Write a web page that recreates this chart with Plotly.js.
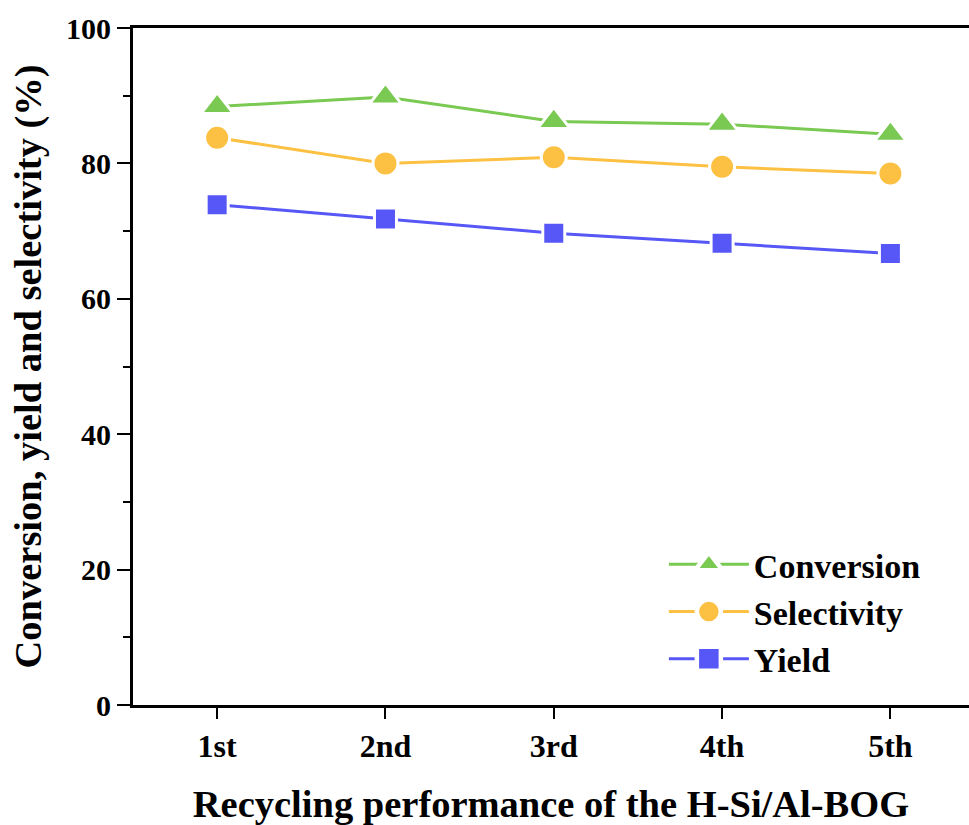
<!DOCTYPE html>
<html>
<head>
<meta charset="utf-8">
<script src="https://cdn.plot.ly/plotly-3.0.1.min.js"></script>
<style>
  html, body { margin: 0; padding: 0; background: #fff; }
  #chart { width: 969px; height: 825px; }
  /* legend glyphs are clamped small by default; show them at the plotted marker size */
  #chart g.legendpoints path.scatterpts { transform: translate(45px, 0px) scale(1.5); }
</style>
</head>
<body>
<div id="chart"></div>
<script>
// Recycling runs of the H-Si/Al-BOG catalyst
const cycles = ['1st', '2nd', '3rd', '4th', '5th'];
const conversion = [88.4, 89.8, 86.2, 85.8, 84.3];
const selectivity = [83.8, 80.0, 80.9, 79.5, 78.5];
const yieldPct = [73.9, 71.8, 69.7, 68.2, 66.7];

const FONT = 'Liberation Serif, Times New Roman, serif';

function series(name, y, color, symbol, size) {
  return {
    type: 'scatter',
    mode: 'lines+markers',
    name: '<b>' + name + '</b>',
    x: cycles,
    y: y,
    line: { color: color, width: 3 },
    marker: { color: color, symbol: symbol, size: size, line: { color: '#ffffff', width: 3 } },
    cliponaxis: false
  };
}

const data = [
  series('Conversion', conversion, '#79c952', 'triangle-up', 28),
  series('Selectivity', selectivity, '#fcc143', 'circle', 25),
  series('Yield', yieldPct, '#5757f7', 'square', 22)
];

const layout = {
  width: 969,
  height: 825,
  margin: { l: 133, r: 0, t: 28, b: 120 },
  paper_bgcolor: '#ffffff',
  plot_bgcolor: '#ffffff',
  showlegend: true,
  font: { family: FONT, color: '#000000' },
  xaxis: {
    type: 'category',
    range: [-0.5, 4.467],
    showline: true,
    linecolor: '#000',
    linewidth: 3,
    mirror: true,
    ticks: 'outside',
    ticklen: 11,
    tickwidth: 2,
    tickcolor: '#000',
    ticklabelstandoff: 0,
    tickfont: { family: FONT, size: 32, color: '#000', weight: 'bold' },
    showgrid: false,
    zeroline: false,
    title: { text: '<b>Recycling performance of the H-Si/Al-BOG</b>', font: { family: FONT, size: 38.5, color: '#000' }, standoff: 29 }
  },
  yaxis: {
    range: [0, 100],
    tickvals: [0, 20, 40, 60, 80, 100],
    showline: true,
    linecolor: '#000',
    linewidth: 3,
    mirror: false,
    ticks: 'outside',
    ticklen: 13,
    tickwidth: 2,
    tickcolor: '#000',
    tickfont: { family: FONT, size: 30, color: '#000', weight: 'bold' },
    minor: { tickvals: [10, 30, 50, 70, 90], ticks: 'outside', ticklen: 7, tickwidth: 2, tickcolor: '#000' },
    showgrid: false,
    zeroline: false
  },
  annotations: [{
    // vertical axis title
    text: '<b>Conversion, yield and selectivity (%)</b>',
    xref: 'paper', yref: 'paper',
    x: 0, y: 0.5,
    xanchor: 'center', yanchor: 'middle',
    xshift: -105,
    textangle: -90,
    showarrow: false,
    font: { family: FONT, size: 38.5, color: '#000' }
  }],
  legend: {
    x: 0.635,
    y: 0.25,
    xanchor: 'left',
    yanchor: 'top',
    bgcolor: 'rgba(0,0,0,0)',
    itemwidth: 80,
    font: { family: FONT, size: 34, color: '#000' },
    tracegroupgap: 0
  }
};

Plotly.newPlot('chart', data, layout, { displayModeBar: false, staticPlot: true });
</script>
</body>
</html>
